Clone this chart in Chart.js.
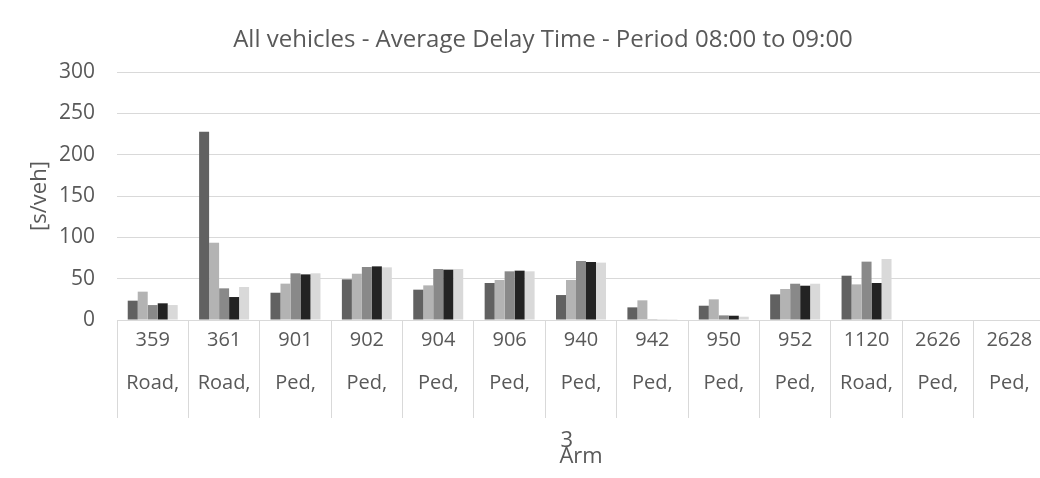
<!DOCTYPE html>
<html>
<head>
<meta charset="utf-8">
<script src="https://cdn.jsdelivr.net/npm/chart.js@4/dist/chart.umd.min.js"></script>
<style>
  html,body{margin:0;padding:0;background:#fff;overflow:hidden}
  #wrap{width:1086px;height:478px}
</style>
</head>
<body>
<div id="wrap"><canvas id="delayChart" width="1086" height="478"></canvas></div>
<script>
// ===== data =====
const armIds   = ["359","361","901","902","904","906","940","942","950","952","1120","2626","2628"];
const armTypes = ["Road,","Road,","Ped,","Ped,","Ped,","Ped,","Ped,","Ped,","Ped,","Ped,","Road,","Ped,","Ped,"];

const run1 = [23.4, 227.8, 33.0, 49.2, 36.7, 44.8, 30.2, 15.3, 17.3, 31.0, 53.6, 0, 0];
const run2 = [34.3,  93.5, 44.0, 56.0, 41.9, 48.4, 48.4, 23.8, 25.0, 37.5, 43.1, 0, 0];
const run3 = [18.1,  38.3, 56.5, 64.1, 61.7, 58.9, 71.4,  0.2,  5.6, 43.9, 70.6, 0, 0];
const run4 = [20.2,  27.8, 55.2, 64.9, 60.9, 59.7, 70.2,  0.5,  5.2, 41.5, 44.8, 0, 0];
const run5 = [18.1,  39.9, 56.5, 63.7, 61.7, 58.9, 69.4,  0.2,  4.0, 43.9, 73.8, 0, 0];

const yTicks = [0, 50, 100, 150, 200, 250, 300];

// ===== styles =====
const TXT = "#595959";
const GRID = "#d9d9d9";
const FONT = "'Open Sans', 'Liberation Sans', sans-serif";

const labels = armIds.map((id,i)=>[id, armTypes[i]]);
const mk = (label, data, color) => ({label, data, backgroundColor: color, borderWidth: 0});

new Chart(document.getElementById("delayChart"), {
  type: "bar",
  data: {
    labels,
    datasets: [
      mk("Run 1", run1, "#616161"),
      mk("Run 2", run2, "#b3b3b3"),
      mk("Run 3", run3, "#898989"),
      mk("Run 4", run4, "#232323"),
      mk("Run 5", run5, "#d9d9d9")
    ]
  },
  options: {
    responsive: false,
    animation: false,
    layout: {padding: 0},
    datasets: {bar: {categoryPercentage: 0.7, barPercentage: 1.0}},
    plugins: {
      legend: {display: false},
      tooltip: {enabled: false},
      title: {
        display: true,
        text: "All vehicles - Average Delay Time - Period 08:00 to 09:00",
        color: TXT,
        font: {family: FONT, size: 24, weight: "normal", lineHeight: 1.2},
        padding: {top: 25.6, bottom: 17.6}
      }
    },
    scales: {
      x: {
        offset: true,
        grid: {
          offset: true, drawOnChartArea: false, drawTicks: true,
          tickLength: 98, color: GRID, lineWidth: 1
        },
        border: {display: true, color: GRID, width: 1},
        ticks: {
          autoSkip: false, maxRotation: 0, color: TXT, padding: -99.5,
          font: {family: FONT, size: 20, lineHeight: 2.15}
        },
        title: {
          display: true,
          text: ["3     ", "Arm"],
          color: TXT,
          font: {family: FONT, size: 22, lineHeight: 0.727},
          padding: {top: 128, bottom: 13}
        }
      },
      y: {
        min: 0, max: 300,
        afterBuildTicks: s => { s.ticks = yTicks.map(v => ({value: v})); },
        grid: {color: GRID, lineWidth: 1, drawTicks: false},
        border: {display: false},
        ticks: {color: TXT, padding: 22, font: {family: FONT, size: 21}},
        title: {
          display: true,
          text: "[s/veh]",
          color: TXT,
          font: {family: FONT, size: 22, lineHeight: 1.2},
          padding: {top: 26.8, bottom: -16.2}
        }
      },
      // empty right margin so the chart title centres on the whole canvas
      gap: {
        position: "right",
        grid: {display: false},
        border: {display: false},
        ticks: {display: false},
        afterFit: s => { s.width = 41; }
      }
    }
  }
});
</script>
</body>
</html>
